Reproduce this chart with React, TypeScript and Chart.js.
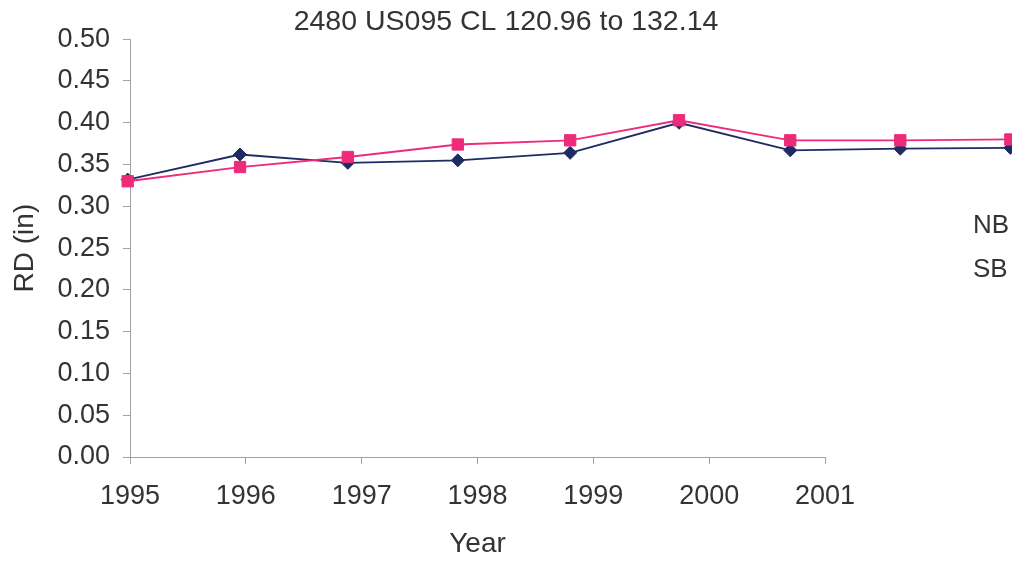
import React, { useEffect, useRef } from "react";
import { Chart, registerables } from "chart.js";

Chart.register(...registerables);

const TITLE = "2480 US095 CL 120.96 to 132.14";
const X_TITLE = "Year";
const Y_TITLE = "RD (in)";
const X_TICKS = [1995, 1996, 1997, 1998, 1999, 2000, 2001];
const X_YEARS = [1994.98, 1995.95, 1996.88, 1997.83, 1998.8, 1999.74, 2000.7, 2001.65, 2002.6];
const NB = [0.332, 0.362, 0.352, 0.355, 0.364, 0.4, 0.367, 0.369, 0.37];
const SB = [0.33, 0.347, 0.359, 0.374, 0.379, 0.403, 0.379, 0.379, 0.38];
const SERIES_LABELS = ["NB", "SB"];

const FONT = '"Liberation Sans", Arial, Helvetica, sans-serif';
const TEXT = "#333333";
const AXIS = "#a3a3a3";
const NAVY = "#1d2c63";
const PINK = "#ee2a7b";

const legendTextPlugin = {
  id: "legendText",
  afterDatasetsDraw(chart: any) {
    // draw markers of points lying past the right end of the x axis
    const { ctx, chartArea } = chart;
    const full = { left: 0, top: 0, right: chart.width, bottom: chart.height };
    [0, 1].forEach((di) => {
      const meta = chart.getDatasetMeta(di);
      meta.data.forEach((p: any) => {
        if (p.x > chartArea.right) p.draw(ctx, full);
      });
    });
  },
  afterDraw(chart: any) {
    const { ctx, chartArea } = chart;
    const cy = (chartArea.top + chartArea.bottom) / 2;
    ctx.save();
    ctx.font = `26px ${FONT}`;
    ctx.fillStyle = TEXT;
    ctx.textAlign = "left";
    ctx.textBaseline = "middle";
    chart.data.datasets.forEach((ds: any, i: number) => {
      ctx.fillText(ds.label, chart.width - 39, cy - 22 + i * 44);
    });
    ctx.restore();
  },
};

export default function App() {
  const ref = useRef<HTMLCanvasElement>(null);
  useEffect(() => {
    if (!ref.current) return;
    const chart = new Chart(ref.current, {
      type: "line",
      data: {
        datasets: [
          {
            label: SERIES_LABELS[0],
            data: X_YEARS.map((x, i) => ({ x, y: NB[i] })),
            borderColor: NAVY,
            backgroundColor: NAVY,
            borderWidth: 1.8,
            pointStyle: "rectRot",
            pointRadius: 6.5,
            pointBorderWidth: 1,
            clip: false as any,
            order: 1,
          },
          {
            label: SERIES_LABELS[1],
            data: X_YEARS.map((x, i) => ({ x, y: SB[i] })),
            borderColor: PINK,
            backgroundColor: PINK,
            borderWidth: 1.8,
            pointStyle: "rect",
            pointRadius: 8,
            pointBorderWidth: 1,
            clip: false as any,
            order: 0,
          },
        ],
      },
      options: {
        animation: false,
        responsive: true,
        maintainAspectRatio: false,
        layout: { padding: 0 },
        plugins: {
          legend: { display: false },
          tooltip: { enabled: false },
          title: {
            display: true,
            text: TITLE,
            color: TEXT,
            font: { family: FONT, size: 28.5, weight: "normal" },
            padding: { top: 5, bottom: 0 },
          },
        },
        scales: {
          x: {
            type: "linear",
            afterDataLimits: (s: any) => {
              s.min = X_TICKS[0];
              s.max = X_TICKS[X_TICKS.length - 1];
            },
            afterBuildTicks: (s: any) => {
              s.ticks = X_TICKS.map((v) => ({ value: v }));
            },
            afterFit: (s: any) => {
              s.height = 105;
            },
            grid: { drawOnChartArea: false, drawTicks: true, tickLength: 7, color: AXIS },
            border: { display: true, color: AXIS, width: 1 },
            ticks: {
              autoSkip: false,
              maxRotation: 0,
              padding: 16,
              color: TEXT,
              font: { family: FONT, size: 27 },
              callback: (v: any) => String(v),
            },
            title: {
              display: true,
              text: X_TITLE,
              color: TEXT,
              font: { family: FONT, size: 28 },
              padding: { top: 0, bottom: 1 },
            },
          },
          y: {
            type: "linear",
            min: 0,
            max: 0.5,
            afterFit: (s: any) => {
              s.width = 130;
            },
            grid: { drawOnChartArea: false, drawTicks: true, tickLength: 7, color: AXIS },
            border: { display: true, color: AXIS, width: 1 },
            ticks: {
              stepSize: 0.05,
              padding: 13,
              color: TEXT,
              font: { family: FONT, size: 27 },
              callback: (v: any) => Number(v).toFixed(2),
            },
            title: {
              display: true,
              text: Y_TITLE,
              color: TEXT,
              font: { family: FONT, size: 28 },
              padding: { top: 8, bottom: 0 },
            },
          },
          yRight: {
            type: "linear",
            position: "right",
            display: true,
            afterFit: (s: any) => {
              s.width = 187;
            },
            grid: { display: false },
            border: { display: false },
            ticks: { display: false },
          },
        },
      },
      plugins: [legendTextPlugin],
    });
    return () => chart.destroy();
  }, []);

  return (
    <div
      style={{
        position: "fixed",
        left: 0,
        top: 0,
        width: 1012,
        height: 562,
        background: "#ffffff",
      }}
    >
      <canvas ref={ref} />
    </div>
  );
}
